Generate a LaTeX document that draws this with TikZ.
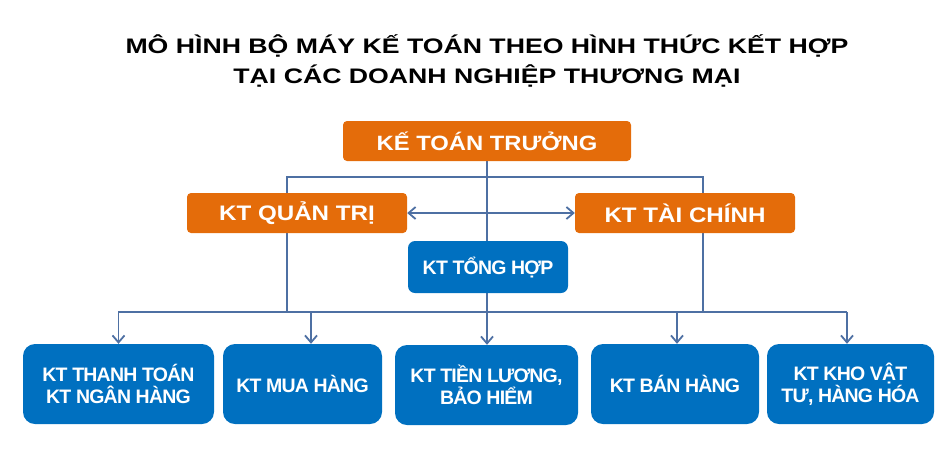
\documentclass[tikz,border=0pt]{standalone}
\usepackage{fontspec}
\setmainfont{Liberation Sans}
\newfontfamily\widefont{Liberation Sans}[FakeStretch=1.15]
\newfontfamily\titlefont{Liberation Sans}[FakeStretch=1.27]
\newfontfamily\tightfont{Liberation Sans}[LetterSpace=-4]
\usetikzlibrary{arrows.meta, positioning, backgrounds}

\definecolor{ktorange}{RGB}{228,108,10}
\definecolor{ktblue}{RGB}{0,112,192}
\definecolor{ktline}{RGB}{78,112,163}

\tikzset{
  headbox/.style={fill=ktorange, rounded corners=4pt, text=white, inner sep=0pt,
    font=\widefont\bfseries\fontsize{21}{24}\selectfont, minimum height=40pt},
  unitbox/.style={fill=ktblue, rounded corners=12pt, text=white, inner sep=0pt, align=center,
    font=\tightfont\bfseries\fontsize{19.5}{22}\selectfont, minimum height=80pt},
  link/.style={draw=ktline, line width=1.8pt},
}

\begin{document}
\begin{tikzpicture}[x=1pt, y=-1pt, >={Straight Barb[length=7pt, width=12pt]}]
    \useasboundingbox (0,0) rectangle (951,467);

    % title
    \node[align=center, font=\titlefont\bfseries\fontsize{21}{30}\selectfont] (title) at (487,61)
        {MÔ HÌNH BỘ MÁY KẾ TOÁN THEO HÌNH THỨC KẾT HỢP\\TẠI CÁC DOANH NGHIỆP THƯƠNG MẠI};

    % top levels
    \node[headbox, minimum width=288pt, font=\widefont\bfseries\fontsize{20.7}{24}\selectfont] (chief) at (487,141) {KẾ TOÁN TRƯỞNG};
    \node[headbox, minimum width=220pt] (qt) at (297,213) {KT QUẢN TRỊ};
    \node[headbox, minimum width=220pt] (tc) at (685,213) {KT TÀI CHÍNH};
    \node[unitbox, rounded corners=7pt, minimum width=160pt, minimum height=52pt] (th) at (488,267) {KT TỔNG HỢP};

    % units
    \node[unitbox, minimum width=191pt] (b1) at (118.5,384) {KT THANH TOÁN\\KT NGÂN HÀNG};
    \node[unitbox, minimum width=159pt] (b2) at (302.5,384) {KT MUA HÀNG};
    \node[unitbox, minimum width=183pt] (b3) at (486.5,385) {KT TIỀN LƯƠNG,\\BẢO HIỂM};
    \node[unitbox, minimum width=168pt] (b4) at (675,384) {KT BÁN HÀNG};
    \node[unitbox, minimum width=167pt] (b5) at (850.5,384) {KT KHO VẬT\\TƯ, HÀNG HÓA};

    \coordinate (topL) at (287,177);
    \coordinate (topR) at (703,177);
    \coordinate (busL) at (118,312);
    \coordinate (busR) at (847,312);

    \begin{scope}[on background layer]
    \draw[link] (chief.south) -- (chief.south |- busL);
    \draw[link] (topL |- busL) -- (topL) -- (topR) -- (topR |- busL);
    \draw[link] (busL) -- (busR);
    \draw[link, <->] (qt.east) -- (tc.west);
    \foreach \b/\dx in {b1/0, b2/8.5, b3/0.5, b4/2, b5/-3.5}
        \draw[link, ->] ([xshift=\dx pt]\b.north |- busL) -- ([xshift=\dx pt]\b.north);
    \end{scope}
\end{tikzpicture}
\end{document}
